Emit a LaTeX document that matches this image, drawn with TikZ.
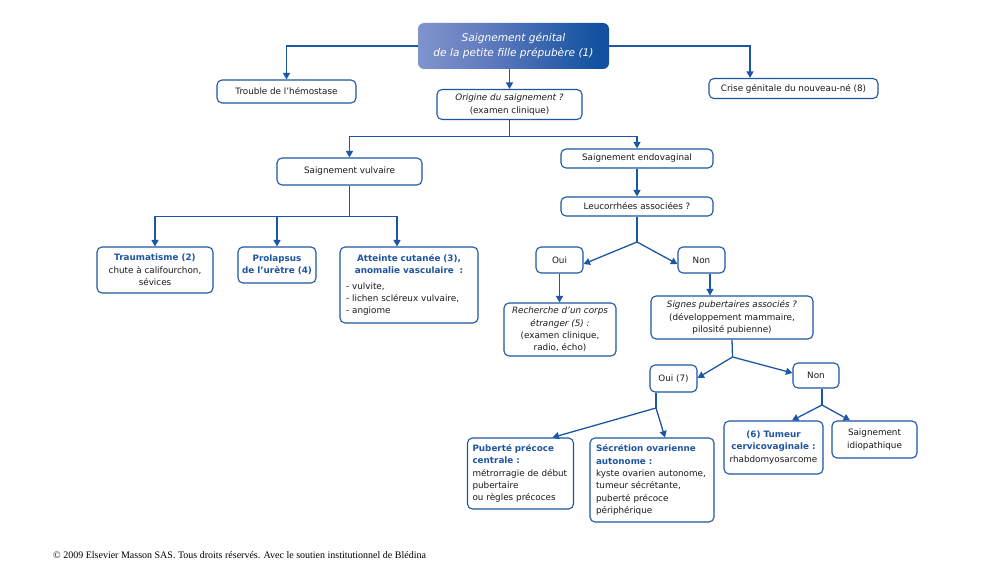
\documentclass[tikz,border=0pt]{standalone}
\usepackage{fontspec}
\setmainfont{DejaVu Sans}
\newfontfamily\footfont{Liberation Serif}
\usetikzlibrary{arrows.meta,calc}
\definecolor{lb}{HTML}{1C57A5}
\definecolor{tb}{HTML}{1F55A0}
\definecolor{tx}{HTML}{1A1A1A}
\pgfdeclarehorizontalshading{topgrad}{100bp}{rgb(0bp)=(0.68,0.72,0.87); rgb(45bp)=(0.36,0.47,0.74); rgb(72bp)=(0.07,0.32,0.62); rgb(100bp)=(0.04,0.29,0.60)}
\tikzset{
 box/.style={draw=lb, line width=1.1pt, rounded corners=5pt, fill=white, inner sep=0pt, align=center, font=\fontsize{8.8}{12.3}\selectfont, text=tx},
 conn/.style={draw=lb, line width=1.3pt, -{Triangle[width=7pt,length=6.5pt]}},
 plain/.style={draw=lb, line width=1.3pt},
}
\newcommand{\hd}[1]{{\color{tb}\bfseries #1}}
\begin{document}
\begin{tikzpicture}[x=1pt,y=-1pt]
\useasboundingbox[fill=white] (0,0) rectangle (1000,588);

% top
\node[shade, shading=topgrad, rounded corners=6pt, inner sep=0pt, minimum width=191pt, minimum height=46pt, align=center, text=white, font=\fontsize{10.6}{15}\selectfont\itshape] (top) at (513.5,46) {Saignement génital\\de la petite fille prépubère (1)};

\node[box, minimum width=139pt, minimum height=23pt] (trouble) at (286.5,91.5) {Trouble de l'hémostase};
\node[box, minimum width=169pt, minimum height=20pt] (crise) at (793.5,88.5) {Crise génitale du nouveau-né (8)};
\node[box, minimum width=145pt, minimum height=30pt] (orig) at (509.5,104.5) {\itshape Origine du saignement ?\\(examen clinique)};

\node[box, minimum width=145pt, minimum height=27pt] (vulv) at (349.5,171.5) {Saignement vulvaire};
\node[box, minimum width=152pt, minimum height=19pt] (endo) at (637,158.5) {Saignement endovaginal};
\node[box, minimum width=152pt, minimum height=19pt] (leuc) at (637,206.5) {Leucorrhées associées ?};

\node[box, minimum width=116pt, minimum height=46pt] (trau) at (155,270) {\hd{Traumatisme (2)}\\chute à califourchon,\\sévices};
\node[box, minimum width=78pt, minimum height=36pt] (prol) at (277,265) {\hd{Prolapsus}\\\hd{de l'urètre (4)}};
\node[box, minimum width=138pt, minimum height=76pt, text width=126pt, align=left] (att) at (409,285) {{\centering\color{tb}\bfseries Atteinte cutanée (3),\\anomalie vasculaire~~:\par}\vspace{3pt}- vulvite,\\- lichen scléreux vulvaire,\\- angiome};

\node[box, minimum width=47pt, minimum height=26pt] (oui) at (559.5,260) {Oui};
\node[box, minimum width=47pt, minimum height=26pt] (non) at (701.5,260) {Non};
\node[box, minimum width=112pt, minimum height=53pt] (rech) at (560,329.5) {\itshape Recherche d'un corps\\\itshape étranger (5) :\\(examen clinique,\\radio, écho)};
\node[box, minimum width=162pt, minimum height=43pt] (sign) at (732,317.5) {\itshape Signes pubertaires associés ?\\(développement mammaire,\\pilosité pubienne)};

\node[box, minimum width=47pt, minimum height=27pt] (oui7) at (673.5,378.5) {Oui (7)};
\node[box, minimum width=46pt, minimum height=25pt] (non2) at (816,375.5) {Non};

\node[box, minimum width=106pt, minimum height=71pt, text width=96pt, align=left] (pub) at (520.5,473.5) {\hd{Puberté précoce}\\\hd{centrale :}\\métrorragie de début\\pubertaire\\ou règles précoces};
\node[box, minimum width=124pt, minimum height=84pt, text width=112pt, align=left] (sec) at (652,480) {\hd{Sécrétion ovarienne}\\\hd{autonome :}\\kyste ovarien autonome,\\tumeur sécrétante,\\puberté précoce\\périphérique};
\node[box, minimum width=99pt, minimum height=53pt] (tum) at (773.5,447.5) {\hd{(6) Tumeur}\\\hd{cervicovaginale :}\\rhabdomyosarcome};
\node[box, minimum width=85pt, minimum height=37pt] (idio) at (874.5,439.5) {Saignement\\idiopathique};

\node[anchor=west, inner sep=0pt, text=black, font=\footfont\fontsize{10}{12}\selectfont] (foot) at (53,555) {© 2009 Elsevier Masson SAS. Tous droits réservés. Avec le soutien institutionnel de Blédina};

% connectors
\draw[conn] (top.west) -| (trouble.north);
\coordinate (cr) at (750,46);
\draw[conn] (top.east) -- (cr) -- (cr |- crise.north);
\draw[conn] (orig.north |- top.south) -- (orig.north);

\coordinate (b1) at (509.5,136.5);
\draw[plain] (orig.south) -- (b1);
\draw[conn] (b1) -| (vulv.north);
\draw[conn] (b1) -| (endo.north);

\coordinate (b0) at (349.5,216.5);
\draw[plain] (vulv.south) -- (b0);
\draw[conn] (b0) -| (trau.north);
\draw[conn] (b0) -| (prol.north);
\draw[conn] (b0) -| ($(att.north)+(-12,0)$);

\draw[conn] (endo.south) -- (leuc.north);
\coordinate (b2) at (637,242);
\draw[plain] (leuc.south) -- (b2);
\draw[conn] (b2) -- ($(oui.east)+(0,4)$);
\draw[conn] (b2) -- ($(non.west)+(0,4)$);
\draw[conn] (oui.south) -- (oui.south |- rech.north);
\coordinate (n1) at ($(non.south)+(8.5,0)$);
\draw[conn] (n1) -- (n1 |- sign.north);

\coordinate (b3) at (732.5,357);
\draw[plain] (sign.south) -- (b3);
\draw[conn] (b3) -- ($(oui7.east)+(0,-0.5)$);
\draw[conn] (b3) -- ($(non2.west)+(0,-2.5)$);

\coordinate (o7) at ($(oui7.south)+(-17.5,0)$);
\coordinate (b4) at (656,408);
\draw[plain] (o7) -- (b4);
\draw[conn] (b4) -- ($(pub.north)+(32,0)$);
\draw[conn] (b4) -- ($(sec.north)+(13,0)$);

\coordinate (n2) at ($(non2.south)+(6,0)$);
\coordinate (b5) at (822,405);
\draw[plain] (n2) -- (b5);
\draw[conn] (b5) -- ($(tum.north)+(18.5,0)$);
\draw[conn] (b5) -- ($(idio.north)+(-24.5,0)$);
\end{tikzpicture}
\end{document}
